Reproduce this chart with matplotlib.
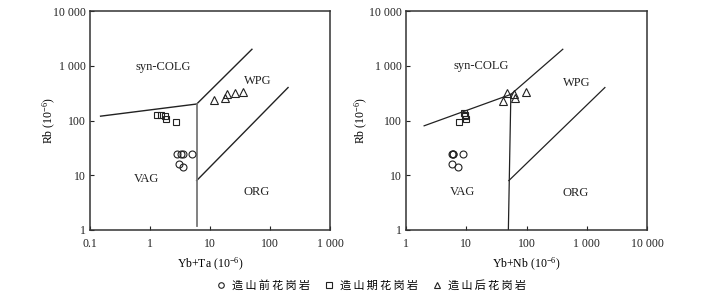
import numpy as np
import matplotlib.pyplot as plt
from matplotlib.lines import Line2D

plt.rcParams['font.family'] = ['Liberation Serif', 'Noto Sans CJK SC']
plt.rcParams['mathtext.fontset'] = 'custom'
plt.rcParams['mathtext.rm'] = 'Liberation Serif'
plt.rcParams['mathtext.it'] = 'Liberation Serif:italic'

# 左图 Rb-(Yb+Ta)
pre_ta_x = [2.8, 3.3, 3.5, 5.1, 3.0, 3.5]
pre_ta_y = [24, 24, 24, 24, 16, 14]
syn_ta_x = [1.3, 1.5, 1.8, 1.85, 2.7]
syn_ta_y = [125, 128, 120, 105, 93]
post_ta_x = [11.5, 18, 19, 26, 35]
post_ta_y = [235, 255, 300, 320, 325]

# 右图 Rb-(Yb+Nb)
pre_nb_x = [5.9, 6.0, 6.1, 9.0, 5.8, 7.3]
pre_nb_y = [24, 24.5, 24, 24, 16, 14]
syn_nb_x = [9.3, 9.5, 9.5, 9.8, 7.6]
syn_nb_y = [135, 125, 120, 105, 93]
post_nb_x = [40, 48, 63, 64, 98]
post_nb_y = [230, 315, 300, 255, 325]

# 判别线 (Pearce et al., 1984)
ta_lines = [([0.15, 6], [120, 200]),
            ([6, 50], [200, 2000]),
            ([6, 200], [8, 400])]
ta_vline = ([6, 6], [200, 1.2])
nb_lines = [([2, 55], [80, 300]),
            ([55, 400], [300, 2000]),
            ([51, 2000], [8, 400]),
            ([55, 50], [300, 1])]

ta_xticks = [0.1, 1, 10, 100, 1000]
ta_xlabels = ['0.1', '1', '10', '100', '1 000']
nb_xticks = [1, 10, 100, 1000, 10000]
nb_xlabels = ['1', '10', '100', '1 000', '10 000']
yticks = [1, 10, 100, 1000, 10000]
ylabels = ['1', '10', '100', '1 000', '10 000']

ta_fields = [('syn-COLG', 1.65, 950), ('WPG', 63, 520), ('VAG', 0.86, 8.5), ('ORG', 60, 4.9)]
nb_fields = [('syn-COLG', 17.6, 1000), ('WPG', 690, 480), ('VAG', 8.5, 4.9), ('ORG', 665, 4.7)]

legend_names = ['造山前花岗岩', '造山期花岗岩', '造山后花岗岩']

fig = plt.figure(figsize=(7.03, 2.92), dpi=100)
ax1 = fig.add_axes([90 / 703, 1 - 230 / 292, 240 / 703, 219 / 292])
ax2 = fig.add_axes([406 / 703, 1 - 230 / 292, 241 / 703, 219 / 292])

mk = dict(linestyle='none', markerfacecolor='none', markeredgecolor='#222222', markeredgewidth=0.8)


def setup(ax, xlim, xticks, xlabels, xname, ylab_x):
    ax.set_xscale('log')
    ax.set_yscale('log')
    ax.set_xlim(xlim)
    ax.set_ylim(1, 10000)
    ax.set_xticks(xticks)
    ax.set_xticklabels(xlabels)
    ax.set_yticks(yticks)
    ax.set_yticklabels(ylabels)
    ax.minorticks_off()
    ax.tick_params(direction='in', length=3, width=0.8, labelsize=8.5, colors='#222222')
    ax.tick_params(axis='x', pad=6)
    ax.tick_params(axis='y', pad=3)
    for s in ax.spines.values():
        s.set_linewidth(1.1)
        s.set_color('#333333')
    ax.set_ylabel(r'Rb (10$^{-6}$)', fontsize=8.5, va='center')
    ax.yaxis.set_label_coords(ylab_x, 0.5)
    ax.set_xlabel(xname, fontsize=8.5, labelpad=4)


setup(ax1, (0.1, 1000), ta_xticks, ta_xlabels, r'Yb+Ta (10$^{-6}$)', -0.167)
setup(ax2, (1, 10000), nb_xticks, nb_xlabels, r'Yb+Nb (10$^{-6}$)', -0.183)

for xs, ys in ta_lines:
    ax1.plot(xs, ys, color='#222222', lw=1.0)
ax1.plot(ta_vline[0], ta_vline[1], color='#777777', lw=1.3)
for xs, ys in nb_lines:
    ax2.plot(xs, ys, color='#222222', lw=0.9)

ax1.plot(pre_ta_x, pre_ta_y, marker='o', markersize=5, **mk)
ax1.plot(syn_ta_x, syn_ta_y, marker='s', markersize=5, **mk)
ax1.plot(post_ta_x, post_ta_y, marker='^', markersize=5.5, **mk)
ax2.plot(pre_nb_x, pre_nb_y, marker='o', markersize=5, **mk)
ax2.plot(syn_nb_x, syn_nb_y, marker='s', markersize=5, **mk)
ax2.plot(post_nb_x, post_nb_y, marker='^', markersize=5.5, **mk)

for name, x, y in ta_fields:
    ax1.text(x, y, name, fontsize=9, ha='center', va='center', color='#222222')
for name, x, y in nb_fields:
    ax2.text(x, y, name, fontsize=9, ha='center', va='center', color='#222222')

# 图例文字加细空格，拉开字距
spaced = ['\u2009'.join(n) for n in legend_names]
handles = [Line2D([], [], marker=m, markersize=4, **mk) for m in ['o', 's', '^']]
fig.legend(handles, spaced, loc='center', bbox_to_anchor=(371 / 703, 1 - 285 / 292), ncol=3,
           frameon=False, prop={'family': ['Noto Sans CJK SC', 'DejaVu Sans'], 'size': 8},
           handlelength=1.0, handletextpad=0.5, columnspacing=1.2)

fig.savefig('out.png', dpi=100)
